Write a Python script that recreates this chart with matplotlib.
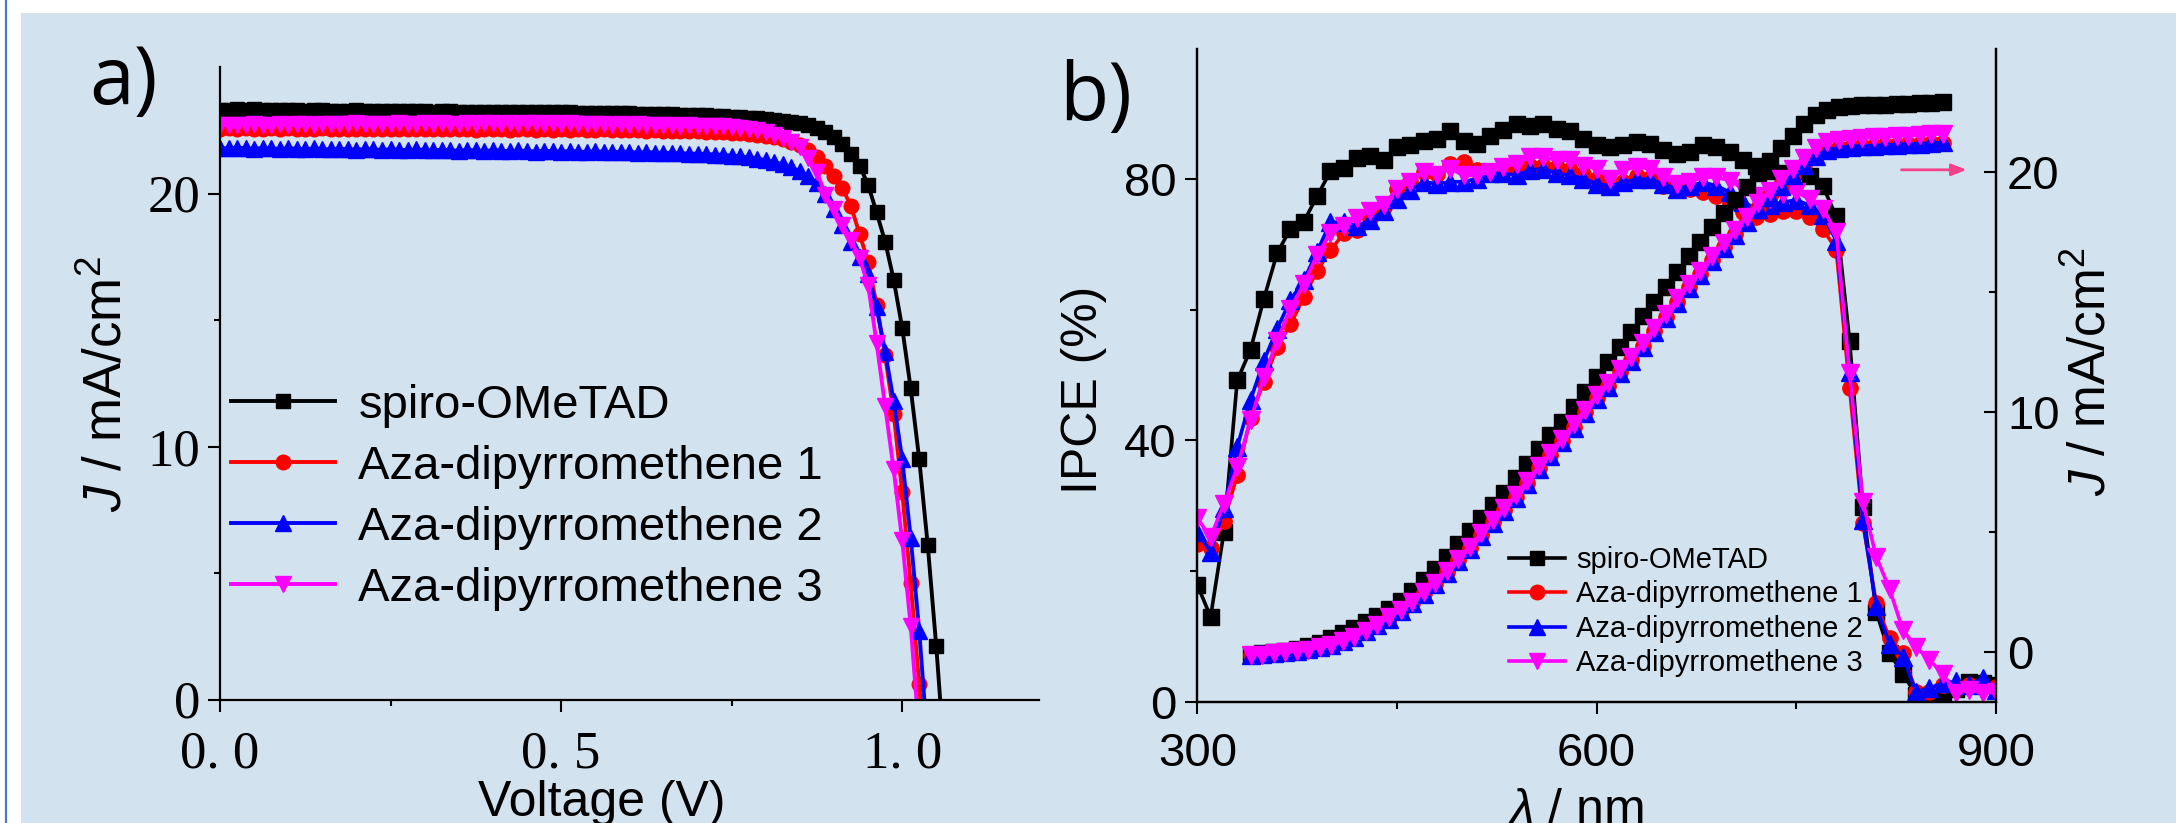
import matplotlib
matplotlib.use('Agg')
import matplotlib.pyplot as plt
from matplotlib.patches import Rectangle
from matplotlib.lines import Line2D
from matplotlib import font_manager
from matplotlib.ticker import FixedLocator

# ---------------- data: panel a (J-V) ----------------
voltage = [0.0, 0.0125, 0.025, 0.0375, 0.05, 0.0625, 0.075, 0.0875, 0.1, 0.1125,
           0.125, 0.1375, 0.15, 0.1625, 0.175, 0.1875, 0.2, 0.2125, 0.225, 0.2375,
           0.25, 0.2625, 0.275, 0.2875, 0.3, 0.3125, 0.325, 0.3375, 0.35, 0.3625,
           0.375, 0.3875, 0.4, 0.4125, 0.425, 0.4375, 0.45, 0.4625, 0.475, 0.4875,
           0.5, 0.5125, 0.525, 0.5375, 0.55, 0.5625, 0.575, 0.5875, 0.6, 0.6125,
           0.625, 0.6375, 0.65, 0.6625, 0.675, 0.6875, 0.7, 0.7125, 0.725, 0.7375,
           0.75, 0.7625, 0.775, 0.7875, 0.8, 0.8125, 0.825, 0.8375, 0.85, 0.8625,
           0.875, 0.8875, 0.9, 0.9125, 0.925, 0.9375, 0.95, 0.9625, 0.975, 0.9875,
           1.0, 1.0125, 1.025, 1.0375, 1.05, 1.0625]

jv_spiro = [23.32, 23.30, 23.33, 23.31, 23.34, 23.32, 23.30, 23.31, 23.29, 23.30,
            23.28, 23.29, 23.30, 23.28, 23.27, 23.28, 23.29, 23.27, 23.28, 23.26,
            23.27, 23.28, 23.26, 23.25, 23.26, 23.24, 23.25, 23.26, 23.24, 23.23,
            23.24, 23.22, 23.23, 23.24, 23.22, 23.21, 23.22, 23.23, 23.24, 23.22,
            23.21, 23.22, 23.20, 23.19, 23.20, 23.18, 23.19, 23.17, 23.18, 23.16,
            23.15, 23.16, 23.14, 23.13, 23.12, 23.11, 23.10, 23.09, 23.07, 23.06,
            23.04, 23.02, 23.00, 22.97, 22.94, 22.90, 22.86, 22.82, 22.77, 22.70,
            22.60, 22.45, 22.25, 21.95, 21.55, 21.10, 20.35, 19.25, 18.10, 16.60,
            14.70, 12.30, 9.50, 6.10, 2.10, -2.50]

jv_aza1 = [22.56, 22.58, 22.55, 22.57, 22.54, 22.56, 22.58, 22.55, 22.57, 22.54,
           22.56, 22.55, 22.57, 22.54, 22.56, 22.55, 22.53, 22.56, 22.54, 22.55,
           22.53, 22.56, 22.54, 22.55, 22.53, 22.54, 22.56, 22.53, 22.55, 22.54,
           22.52, 22.55, 22.53, 22.54, 22.52, 22.55, 22.53, 22.51, 22.54, 22.52,
           22.53, 22.51, 22.54, 22.52, 22.50, 22.53, 22.51, 22.52, 22.50, 22.51,
           22.49, 22.50, 22.48, 22.49, 22.47, 22.46, 22.47, 22.45, 22.44, 22.43,
           22.41, 22.39, 22.36, 22.33, 22.29, 22.23, 22.15, 22.05, 21.90, 21.70,
           21.45, 21.10, 20.70, 20.20, 19.50, 18.40, 17.30, 15.60, 13.60, 11.30,
           8.20, 4.60, 0.60, -4.00, -8.50, -13.00]

jv_aza2 = [21.80, 21.78, 21.81, 21.79, 21.77, 21.80, 21.78, 21.76, 21.79, 21.77,
           21.75, 21.78, 21.76, 21.74, 21.77, 21.75, 21.73, 21.76, 21.74, 21.72,
           21.75, 21.73, 21.71, 21.74, 21.72, 21.70, 21.73, 21.71, 21.69, 21.72,
           21.70, 21.68, 21.71, 21.69, 21.67, 21.70, 21.68, 21.66, 21.69, 21.67,
           21.65, 21.68, 21.66, 21.64, 21.67, 21.65, 21.63, 21.66, 21.64, 21.62,
           21.64, 21.62, 21.60, 21.61, 21.59, 21.58, 21.57, 21.56, 21.54, 21.52,
           21.50, 21.47, 21.43, 21.38, 21.32, 21.25, 21.15, 21.03, 20.88, 20.68,
           20.42, 20.00, 19.40, 18.75, 18.10, 17.50, 16.80, 15.50, 13.75, 11.80,
           9.50, 6.40, 2.70, -1.80, -6.50, -11.00]

jv_aza3 = [22.70, 22.72, 22.69, 22.71, 22.73, 22.70, 22.72, 22.74, 22.71, 22.73,
           22.75, 22.72, 22.74, 22.76, 22.73, 22.75, 22.77, 22.74, 22.76, 22.73,
           22.75, 22.77, 22.74, 22.76, 22.78, 22.75, 22.77, 22.74, 22.76, 22.78,
           22.75, 22.77, 22.79, 22.76, 22.78, 22.75, 22.77, 22.79, 22.76, 22.78,
           22.75, 22.77, 22.74, 22.76, 22.73, 22.75, 22.72, 22.74, 22.71, 22.73,
           22.70, 22.72, 22.69, 22.70, 22.68, 22.69, 22.67, 22.68, 22.66, 22.65,
           22.63, 22.60, 22.55, 22.50, 22.42, 22.32, 22.18, 22.02, 21.82, 21.40,
           20.85, 19.95, 19.40, 18.75, 18.15, 17.45, 16.40, 14.10, 11.60, 9.10,
           6.30, 2.90, -1.40, -6.00, -10.50, -15.00]

# ---------------- data: panel b (IPCE + integrated J) ----------------
wavelength = [300, 310, 320, 330, 340, 350, 360, 370, 380, 390,
              400, 410, 420, 430, 440, 450, 460, 470, 480, 490,
              500, 510, 520, 530, 540, 550, 560, 570, 580, 590,
              600, 610, 620, 630, 640, 650, 660, 670, 680, 690,
              700, 710, 720, 730, 740, 750, 760, 770, 780, 790,
              800, 810, 820, 830, 840, 850, 860, 870, 880, 890, 900]

ipce_spiro = [17.9, 13.0, 26.0, 49.2, 53.9, 61.7, 68.7, 72.4, 73.5, 77.4,
              81.2, 81.7, 83.2, 83.5, 83.0, 85.0, 85.3, 85.8, 86.1, 87.4,
              85.8, 85.4, 86.6, 87.6, 88.4, 88.1, 88.4, 87.7, 87.4, 86.2,
              85.2, 84.9, 85.2, 85.7, 85.4, 84.4, 83.9, 84.2, 85.2, 84.9,
              84.2, 83.0, 82.0, 81.3, 80.9, 81.2, 80.5, 78.9, 74.3, 55.3,
              29.8, 13.8, 7.4, 4.3, 1.0, 0.8, 1.5, 2.0, 3.0, 2.9, 2.6]

ipce_aza1 = [24.2, 23.6, 27.7, 34.7, 43.5, 49.0, 54.3, 57.8, 61.9, 66.0,
             69.1, 71.7, 72.2, 74.0, 75.8, 78.5, 79.8, 81.1, 80.8, 82.4,
             82.6, 81.4, 81.1, 81.4, 81.6, 82.1, 82.1, 81.9, 81.4, 80.8,
             80.1, 79.0, 79.5, 80.5, 80.2, 79.0, 78.5, 78.5, 78.0, 77.5,
             76.4, 75.0, 74.2, 74.6, 75.2, 75.2, 74.2, 72.4, 69.2, 48.0,
             27.3, 15.1, 9.7, 7.4, 1.5, 1.5, 2.6, 2.3, 2.6, 2.3, 2.3]

ipce_aza2 = [26.0, 22.9, 29.6, 39.0, 46.2, 52.2, 57.1, 61.5, 64.5, 68.9,
             73.4, 73.4, 72.9, 73.7, 75.2, 77.0, 78.3, 79.6, 79.3, 79.6,
             79.6, 80.1, 80.9, 80.9, 80.6, 81.4, 81.6, 80.9, 80.6, 80.1,
             79.3, 79.0, 79.5, 80.0, 80.0, 79.3, 78.5, 79.0, 79.5, 79.0,
             78.0, 76.5, 75.5, 76.0, 76.5, 76.8, 76.0, 74.5, 70.6, 50.5,
             27.8, 14.6, 8.9, 6.9, 1.5, 2.1, 2.8, 3.1, 2.6, 3.6, 1.8]

ipce_aza3 = [28.1, 25.2, 30.3, 35.9, 43.1, 49.7, 55.3, 60.1, 64.0, 68.4,
             71.7, 72.9, 74.0, 75.2, 76.0, 78.5, 79.6, 81.1, 80.6, 81.6,
             80.6, 80.6, 81.1, 81.9, 82.4, 83.4, 83.4, 82.9, 82.9, 82.1,
             81.6, 80.1, 81.4, 81.9, 81.6, 80.3, 79.3, 79.6, 80.3, 80.3,
             79.8, 78.5, 77.5, 77.0, 77.8, 78.0, 77.0, 75.5, 71.9, 50.3,
             30.6, 22.2, 17.3, 11.0, 8.4, 6.4, 4.3, 1.3, 1.8, 1.3, 1.5]

wavelength_j = [340.0, 348.7, 357.3, 366.0, 374.7, 383.3, 392.0, 400.7, 409.3, 418.0,
                426.7, 435.3, 444.0, 452.7, 461.3, 470.0, 478.7, 487.3, 496.0, 504.7,
                513.3, 522.0, 530.7, 539.3, 548.0, 556.7, 565.3, 574.0, 582.7, 591.3,
                600.0, 608.7, 617.3, 626.0, 634.7, 643.3, 652.0, 660.7, 669.3, 678.0,
                686.7, 695.3, 704.0, 712.7, 721.3, 730.0, 738.7, 747.3, 756.0, 764.7,
                773.3, 782.0, 790.7, 799.3, 808.0, 816.7, 825.3, 834.0, 842.7, 851.3, 860.0]

jint_spiro = [-0.1, -0.05, 0.0, 0.05, 0.15, 0.25, 0.4, 0.6, 0.8, 1.0,
              1.25, 1.5, 1.8, 2.15, 2.55, 3.0, 3.45, 3.95, 4.5, 5.05,
              5.6, 6.15, 6.65, 7.25, 7.85, 8.45, 9.05, 9.6, 10.2, 10.85,
              11.45, 12.1, 12.7, 13.35, 14.0, 14.6, 15.2, 15.85, 16.5, 17.1,
              17.7, 18.3, 18.85, 19.4, 19.95, 20.45, 21.0, 21.5, 22.0, 22.4,
              22.6, 22.7, 22.75, 22.78, 22.8, 22.82, 22.84, 22.86, 22.88, 22.9, 22.92]

jint_aza1 = [-0.1, -0.1, -0.05, 0.0, 0.05, 0.1, 0.2, 0.3, 0.45, 0.65,
             0.88, 1.13, 1.42, 1.72, 2.07, 2.46, 2.86, 3.35, 3.85, 4.35,
             4.88, 5.43, 5.93, 6.47, 7.07, 7.66, 8.21, 8.8, 9.4, 10.0,
             10.6, 11.1, 11.68, 12.18, 12.77, 13.37, 13.96, 14.6, 15.2, 15.74,
             16.33, 16.88, 17.43, 17.97, 18.5, 19.0, 19.48, 19.9, 20.32, 20.7,
             20.93, 21.02, 21.06, 21.08, 21.1, 21.12, 21.14, 21.16, 21.18, 21.2, 21.22]

jint_aza2 = [-0.1, -0.08, -0.04, 0.01, 0.06, 0.12, 0.21, 0.31, 0.46, 0.65,
             0.87, 1.12, 1.4, 1.7, 2.05, 2.44, 2.84, 3.32, 3.82, 4.32,
             4.85, 5.4, 5.9, 6.44, 7.03, 7.62, 8.17, 8.76, 9.36, 9.96,
             10.55, 11.06, 11.64, 12.14, 12.73, 13.33, 13.92, 14.56, 15.16, 15.7,
             16.29, 16.84, 17.39, 17.93, 18.46, 18.96, 19.44, 19.87, 20.3, 20.68,
             20.92, 21.02, 21.07, 21.09, 21.11, 21.13, 21.15, 21.17, 21.19, 21.21, 21.24]

jint_aza3 = [-0.1, -0.1, -0.05, 0.0, 0.05, 0.1, 0.2, 0.3, 0.45, 0.65,
             0.9, 1.15, 1.45, 1.75, 2.1, 2.5, 2.9, 3.4, 3.9, 4.4,
             4.95, 5.5, 6.0, 6.55, 7.15, 7.75, 8.3, 8.9, 9.5, 10.1,
             10.7, 11.2, 11.8, 12.3, 12.9, 13.5, 14.1, 14.75, 15.35, 15.9,
             16.5, 17.05, 17.6, 18.15, 18.7, 19.2, 19.7, 20.15, 20.6, 21.0,
             21.25, 21.35, 21.4, 21.42, 21.45, 21.47, 21.5, 21.52, 21.55, 21.58, 21.6]

labels = ['spiro-OMeTAD', 'Aza-dipyrromethene 1', 'Aza-dipyrromethene 2', 'Aza-dipyrromethene 3']
colors = ['#000000', '#ff0000', '#0000ff', '#ff00ff']
markers = ['s', 'o', '^', 'v']

# ---------------- layout helpers ----------------
W, H = 2178, 823
def fx(px):
    return px / W
def fy(py):
    return 1 - py / H

def has_font(name):
    try:
        font_manager.findfont(font_manager.FontProperties(family=name), fallback_to_default=False)
        return True
    except Exception:
        return False

NARROW = 'Liberation Sans Narrow' if has_font('Liberation Sans Narrow') else 'Liberation Sans'

plt.rcParams['font.family'] = ['Liberation Sans', 'DejaVu Sans']
plt.rcParams['mathtext.fontset'] = 'custom'
plt.rcParams['mathtext.rm'] = 'Liberation Sans'
plt.rcParams['mathtext.it'] = 'Liberation Sans:italic'

fig = plt.figure(figsize=(W / 100, H / 100), dpi=100)
fig.patch.set_facecolor('white')
fig.patches.append(Rectangle((fx(21), 0), fx(2176) - fx(21), fy(13), transform=fig.transFigure,
                             facecolor='#d2e3ef', edgecolor='none', zorder=-10))
fig.lines.append(Line2D([fx(6), fx(6)], [0, 1], transform=fig.transFigure, color='#4a78c8', lw=1.6))

# ---------------- panel a ----------------
axa = fig.add_axes([fx(220), fy(699.5), fx(1038.6) - fx(220), fy(67) - fy(699.5)])
axa.set_facecolor('none')
jv_sets = [jv_spiro, jv_aza1, jv_aza2, jv_aza3]
msa = {'s': 10.5, 'o': 10.5, '^': 11.5, 'v': 11.5}
for j, c, m, lab in zip(jv_sets, colors, markers, labels):
    axa.plot(voltage, j, '-', color=c, marker=m, ms=msa[m], mec=c, mfc=c, lw=2.8, label=lab)
axa.set_xlim(0, 1.2)
axa.set_ylim(0, 25)
for s in ['top', 'right']:
    axa.spines[s].set_visible(False)
for s in ['left', 'bottom']:
    axa.spines[s].set_linewidth(1.6)
axa.xaxis.set_major_locator(FixedLocator([0.0, 0.5, 1.0]))
axa.xaxis.set_minor_locator(FixedLocator([0.25, 0.75]))
axa.set_xticklabels(['0. 0', '0. 5', '1. 0'])
axa.yaxis.set_major_locator(FixedLocator([0, 10, 20]))
axa.yaxis.set_minor_locator(FixedLocator([5, 15]))
axa.set_yticklabels(['0', '10', '20'])
axa.tick_params(axis='both', which='major', direction='out', length=8.6, width=1.5,
                labelsize=38, labelfontfamily='Liberation Serif')
axa.tick_params(axis='both', which='minor', direction='out', length=4.3, width=1.5)
axa.tick_params(axis='x', which='major', pad=14)
axa.tick_params(axis='y', which='major', pad=5.5)

axa.legend(loc='upper left', bbox_to_anchor=(fx(231), fy(384)), bbox_transform=fig.transFigure,
           frameon=False, fontsize=34, handlelength=2.2, handletextpad=0.5, labelspacing=0.36,
           borderpad=0, borderaxespad=0)

fig.text(fx(107), fy(384), r'$J$ / mA/cm$^2$', rotation=90, ha='center', va='center', fontsize=38)
fig.text(fx(602), fy(780), 'Voltage (V)', ha='center', va='top', fontsize=36)
fig.text(fx(89), fy(104), 'a)', ha='left', va='baseline', fontsize=58,
         family=['Open Sans', 'DejaVu Sans'])

# ---------------- panel b ----------------
axb = fig.add_axes([fx(1197.3), fy(701.7), fx(1996) - fx(1197.3), fy(48.6) - fy(701.7)])
axb.set_facecolor('none')
axb2 = axb.twinx()
ipce_sets = [ipce_spiro, ipce_aza1, ipce_aza2, ipce_aza3]
jint_sets = [jint_spiro, jint_aza1, jint_aza2, jint_aza3]
msize = {'s': 11, 'o': 11, '^': 12.5, 'v': 12.5}
for y, c, m, lab in zip(ipce_sets, colors, markers, labels):
    axb.plot(wavelength, y, '-', color=c, marker=m, ms=msize[m], mec=c, mfc=c, lw=2.6, label=lab)
for y, c, m in zip(jint_sets, colors, markers):
    axb2.plot(wavelength_j, y, '-', color=c, marker=m, ms=msize[m], mec=c, mfc=c, lw=2.6)

axb.set_xlim(300, 900)
axb.set_ylim(0, 100)
axb2.set_ylim(-2.06, 25.15)
for a in (axb, axb2):
    a.spines['top'].set_visible(False)
    for s in ['left', 'bottom', 'right']:
        a.spines[s].set_linewidth(1.6)
axb.xaxis.set_major_locator(FixedLocator([300, 600, 900]))
axb.xaxis.set_minor_locator(FixedLocator([450, 750]))
axb.yaxis.set_major_locator(FixedLocator([0, 40, 80]))
axb.yaxis.set_minor_locator(FixedLocator([20, 60]))
axb2.yaxis.set_major_locator(FixedLocator([0, 10, 20]))
axb2.yaxis.set_minor_locator(FixedLocator([5, 15]))
axb.tick_params(axis='both', which='major', direction='out', length=8.6, width=1.5, labelsize=34)
axb.tick_params(axis='both', which='minor', direction='out', length=5, width=1.5)
axb.tick_params(axis='x', which='major', pad=13)
axb.tick_params(axis='y', which='major', pad=6.5)
axb2.tick_params(axis='y', which='major', direction='in', length=8.6, width=1.5, labelsize=34, pad=8)
axb2.tick_params(axis='y', which='minor', direction='in', length=5, width=1.5)

axb2.annotate('', xy=(878, 20.1), xytext=(829, 20.1), xycoords='data',
              arrowprops=dict(arrowstyle='-|>,head_length=0.9,head_width=0.35',
                              color='#f5408a', lw=2, shrinkA=0, shrinkB=0))

handles, labs = axb.get_legend_handles_labels()
axb2.legend(handles, labs, loc='upper left', bbox_to_anchor=(fx(1509), fy(546)),
            bbox_transform=fig.transFigure, frameon=False, prop={'family': NARROW, 'size': 21},
            handlelength=1.92, handletextpad=0.38, labelspacing=0.22, markerscale=0.95,
            borderpad=0, borderaxespad=0)

fig.text(fx(1084), fy(390), 'IPCE (%)', rotation=90, ha='center', va='center', fontsize=36)
fig.text(fx(2092), fy(371), r'$J$ / mA/cm$^2$', rotation=90, ha='center', va='center', fontsize=37)
fig.text(fx(1575), fy(788), r'$\lambda$ / nm', ha='center', va='top', fontsize=36)
fig.text(fx(1059), fy(120), 'b)', ha='left', va='baseline', fontsize=58,
         family=['Open Sans', 'DejaVu Sans'])

fig.savefig('out.png', dpi=100)
